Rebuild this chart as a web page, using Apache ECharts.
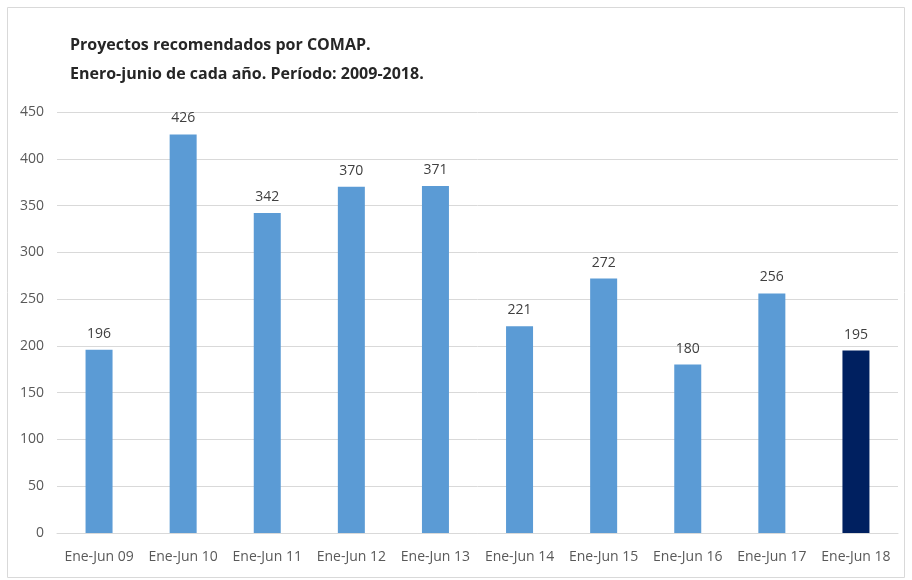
<!DOCTYPE html>
<html>
<head>
<meta charset="utf-8">
<script src="https://cdn.jsdelivr.net/npm/echarts@6/dist/echarts.min.js"></script>
<style>
  html, body { margin: 0; padding: 0; background: #fff; }
  #chart { width: 912px; height: 580px; }
</style>
</head>
<body>
<div id="chart"></div>
<script>
// datos
const categorias = ['Ene-Jun 09', 'Ene-Jun 10', 'Ene-Jun 11', 'Ene-Jun 12', 'Ene-Jun 13',
  'Ene-Jun 14', 'Ene-Jun 15', 'Ene-Jun 16', 'Ene-Jun 17', 'Ene-Jun 18'];
const proyectos = [196, 426, 342, 370, 371, 221, 272, 180, 256, 195];
const colorBarra = '#5B9BD5';
const colorUltimo = '#002060';

const fuente = '"Open Sans", sans-serif';
let myChart = echarts.init(document.getElementById('chart'));
myChart.setOption({
  animation: false,
  graphic: [{
    type: 'rect',
    shape: { x: 7.5, y: 7.5, width: 897, height: 570 },
    style: { fill: 'none', stroke: '#D9D9D9', lineWidth: 1 }
  }],
  title: {
    text: 'Proyectos recomendados por COMAP.\nEnero-junio de cada año. Período: 2009-2018.',
    left: 65,
    top: 26,
    textStyle: {
      fontFamily: fuente,
      fontSize: 16,
      fontWeight: 'bold',
      color: '#262626',
      lineHeight: 29
    }
  },
  grid: {
    left: 57,
    right: 14,
    top: 112,
    bottom: 47,
    containLabel: false
  },
  xAxis: {
    type: 'category',
    data: categorias,
    axisLine: { lineStyle: { color: '#D9D9D9' } },
    axisTick: { show: false },
    axisLabel: {
      interval: 0,
      color: '#595959',
      fontFamily: fuente,
      fontSize: 14,
      margin: 17
    }
  },
  yAxis: {
    type: 'value',
    min: 0,
    max: 450,
    interval: 50,
    axisLine: { show: false },
    axisTick: { show: false },
    splitLine: { lineStyle: { color: '#D9D9D9' } },
    axisLabel: {
      color: '#595959',
      fontFamily: fuente,
      fontSize: 14,
      margin: 13
    }
  },
  series: [{
    type: 'bar',
    data: proyectos.map((v, i) => ({
      value: v,
      itemStyle: { color: i === proyectos.length - 1 ? colorUltimo : colorBarra }
    })),
    barWidth: 27,
    label: {
      show: true,
      position: 'top',
      distance: 9,
      color: '#404040',
      fontFamily: fuente,
      fontSize: 14
    }
  }]
});
</script>
</body>
</html>
